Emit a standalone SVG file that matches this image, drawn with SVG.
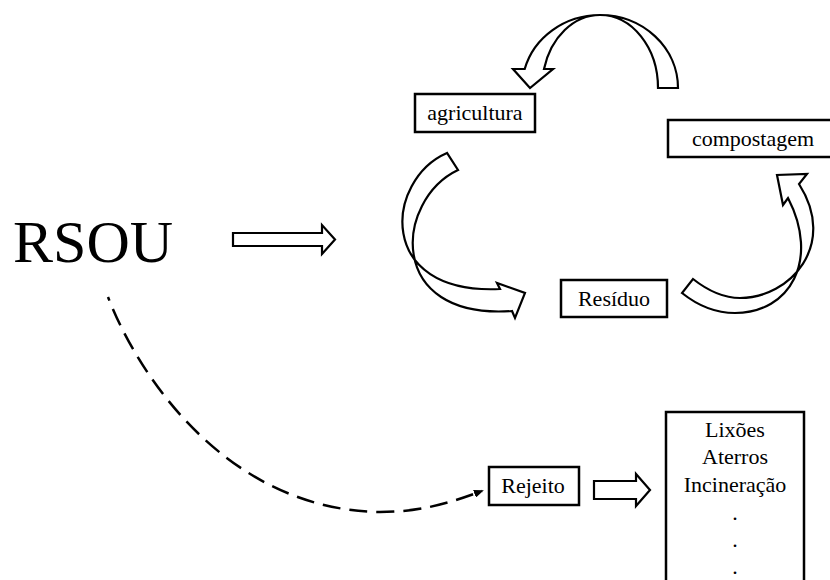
<svg xmlns="http://www.w3.org/2000/svg" width="830" height="580" viewBox="0 0 830 580">
<defs>
<style>
.lbl{font-size:22px;text-anchor:middle;}
.box{fill:#fff;stroke:#000;stroke-width:2.5;}
.blk{fill:#fff;stroke:#000;stroke-width:2.2;stroke-linejoin:miter;}
.dash{fill:none;stroke:#000;stroke-width:2.5;stroke-dasharray:18 9;stroke-dashoffset:14;}
</style>
<marker id="ah" markerWidth="10" markerHeight="8" refX="8" refY="4" orient="auto" markerUnits="userSpaceOnUse">
<path d="M0,0 L10,4 L0,8 Z" fill="#000"/>
</marker>
</defs>
<rect width="830" height="580" fill="#fff"/>

<g id="connectors">
<path id="c-rsou" class="blk" d="M233,233 L322,233 L322,225 L335,239.5 L322,254 L322,246 L233,246 Z"/>
<path id="c-top" class="blk" d="M658,88 A58,73 0 0 0 600,15 A78,73 0 0 0 524.7,69 L513,69 L530,88 L553,69 L544,69 A58,73 0 0 1 600,15 A78,73 0 0 1 678,88 Z"/>
<path id="c-left" class="blk" d="M447,153 C385,180 375,295 500,289 L497,283 L525,293 L515,318 L512,311 C385,320 395,200 458,170 Z"/>
<path id="c-right" class="blk" d="M693,279 C707,290 722,298 740,298 C790,298 838,245 799,184 L807,174 L777,175 L783,205 L788,198 C820,260 790,313 735,313 C715,313 697,305 682,293 Z"/>
<path id="c-dash" class="dash" d="M108,297 C140,380 230,510 380,512 C420,512 450,503 482,491" marker-end="url(#ah)"/>
<path id="c-rej" class="blk" d="M594,481 L636,481 L636,474 L650,490 L636,506 L636,499 L594,499 Z"/>
</g>

<g font-family="'Liberation Serif', Tinos, 'Times New Roman', 'DejaVu Serif', serif" fill="#000">
<g id="n-rsou">
<text x="13" y="262" font-size="60">RSOU</text>
</g>
<g id="n-agricultura">
<rect class="box" x="415" y="94" width="120" height="38"/>
<text class="lbl" x="475" y="120">agricultura</text>
</g>
<g id="n-compostagem">
<rect class="box" x="668" y="120" width="175" height="37"/>
<text class="lbl" x="753" y="146">compostagem</text>
</g>
<g id="n-residuo">
<rect class="box" x="561" y="280" width="106" height="37"/>
<text class="lbl" x="614" y="306">Resíduo</text>
</g>
<g id="n-rejeito">
<rect class="box" x="489" y="467" width="90" height="38"/>
<text class="lbl" x="533" y="493">Rejeito</text>
</g>
<g id="n-destinos">
<rect class="box" x="666" y="412" width="138" height="200"/>
<text class="lbl" x="735" y="437">Lixões</text>
<text class="lbl" x="735" y="464">Aterros</text>
<text class="lbl" x="735" y="492">Incineração</text>
<text class="lbl" x="735" y="520">.</text>
<text class="lbl" x="735" y="547">.</text>
<text class="lbl" x="735" y="574">.</text>
</g>
</g>
</svg>
